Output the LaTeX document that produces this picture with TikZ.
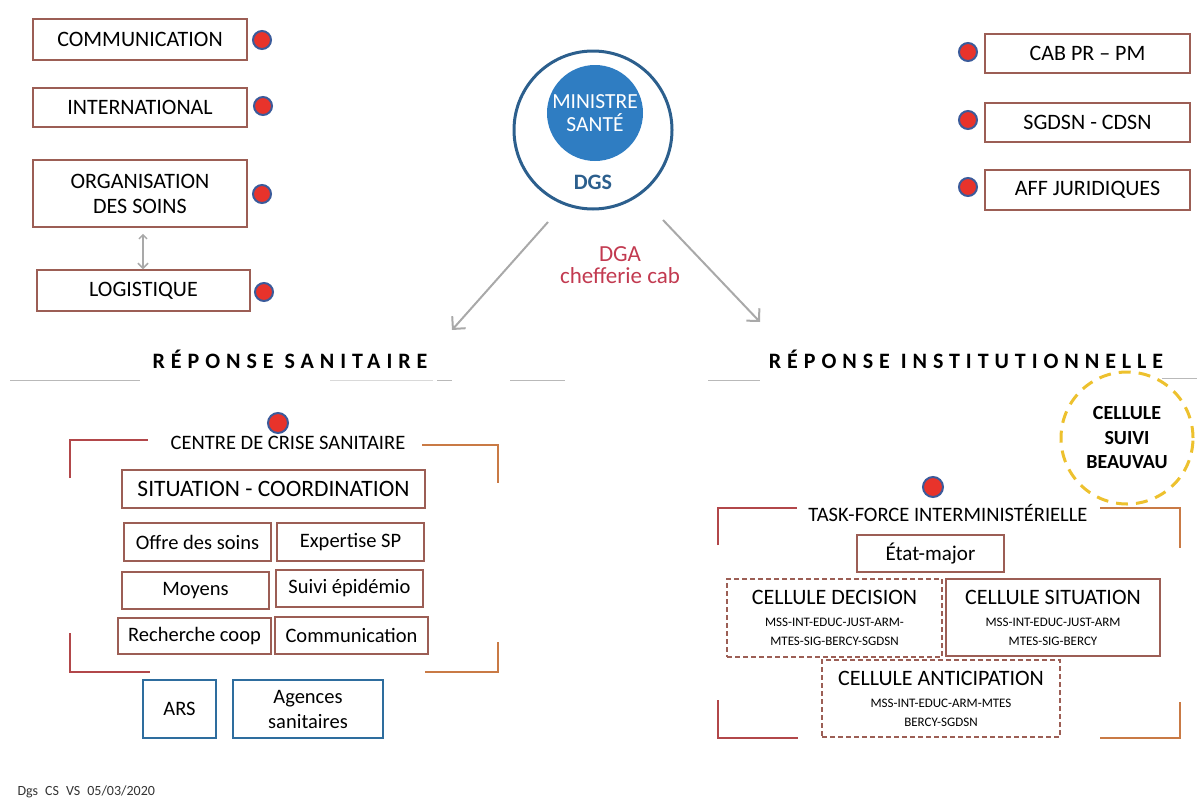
\documentclass[tikz,border=0pt]{standalone}
\usepackage{fontspec}
\setmainfont{Carlito}
\newfontfamily\spacedfont[LetterSpace=27]{Carlito}
\usetikzlibrary{arrows.meta}

\definecolor{boxline}{HTML}{9C5E55}
\definecolor{dotred}{HTML}{E8332B}
\definecolor{dotblue}{HTML}{3B5B9B}
\definecolor{dgsblue}{HTML}{2C5F8D}
\definecolor{minblue}{HTML}{2F7DC2}
\definecolor{dgared}{HTML}{C23A50}
\definecolor{arrgray}{HTML}{A9A9A9}
\definecolor{agblue}{HTML}{2E6D9E}
\definecolor{frameleft}{HTML}{B2474A}
\definecolor{frameright}{HTML}{C97A45}
\definecolor{beauyellow}{HTML}{EDC12E}

\begin{document}
\begin{tikzpicture}[x=1pt,y=-1pt,
    box/.style={draw=boxline,line width=1.5pt,fill=white,inner sep=0pt,align=center,font=\fontsize{22}{25}\selectfont},
    smallbox/.style={box,font=\fontsize{20.5}{23}\selectfont},
    bluebox/.style={box,draw=agblue,line width=2.5pt,font=\fontsize{20.5}{25}\selectfont},
    cellbox/.style={box,font=\fontsize{13}{19}\selectfont},
    dot/.style={circle,draw=dotblue,fill=dotred,line width=2pt,minimum size=18pt,inner sep=0pt},
    sectitle/.style={font=\fontsize{20.5}{24}\selectfont},
    heading/.style={font=\spacedfont\bfseries\fontsize{22}{26}\selectfont},
    framel/.style={draw=frameleft,line width=1.5pt},
    framer/.style={draw=frameright,line width=1.5pt},
    sepline/.style={draw=gray!55,line width=1pt},
    arr/.style={draw=arrgray,line width=2pt,-{Straight Barb[length=9pt,width=18pt]}},
    dblarr/.style={draw=arrgray,line width=1.5pt,{Straight Barb[length=4pt,width=8pt]}-{Straight Barb[length=5pt,width=10pt]}}]

\useasboundingbox (0,0) rectangle (1197,798);

% Left support boxes
\node[box,minimum width=214pt,minimum height=41pt] (comm) at (140,39.5) {COMMUNICATION};
\node[box,minimum width=214pt,minimum height=39pt] (intl) at (140,107.5) {INTERNATIONAL};
\node[box,minimum width=214pt,minimum height=67pt] (orga) at (140,193.5) {ORGANISATION\\DES SOINS};
\node[box,minimum width=213pt,minimum height=41pt] (logi) at (143.5,290.5) {LOGISTIQUE};
\node[dot] (dcomm) at (262,40) {};
\node[dot] (dintl) at (263,106) {};
\node[dot] (dorga) at (262,194) {};
\node[dot] (dlogi) at (264,292) {};
\draw[dblarr] ([xshift=3pt,yshift=-6pt]orga.south) -- ([xshift=3pt]orga.south |- logi.north);

% Right support boxes
\node[box,minimum width=205pt,minimum height=39pt] (cab) at (1087.5,53.5) {CAB PR -- PM};
\node[box,minimum width=205pt,minimum height=39pt] (sgd) at (1087.5,122.5) {SGDSN - CDSN};
\node[box,minimum width=205pt,minimum height=40pt] (aff) at (1087.5,190) {AFF JURIDIQUES};
\node[dot] (dcab) at (968,52) {};
\node[dot] (dsgd) at (968,120) {};
\node[dot] (daff) at (968,187) {};

% Minister and DGS
\node[circle,draw=dgsblue,line width=3pt,minimum size=158pt] (dgs) at (593,130) {};
\node[circle,fill=minblue,minimum size=96pt,inner sep=0pt,text=white,align=center,font=\fontsize{21.5}{23}\selectfont] (mini) at (595,113) {MINISTRE\\SANTÉ};
\node[text=dgsblue,font=\bfseries\fontsize{22}{24}\selectfont] (dgslbl) at (593,182) {DGS};
\node[text=dgared,align=center,font=\fontsize{23}{22}\selectfont] (dga) at (620,265) {DGA\\chefferie cab};

% Two responses
\node[heading] (rsan) at (290,359) {RÉPONSE SANITAIRE};
\node[heading] (rinst) at (966,359) {RÉPONSE INSTITUTIONNELLE};
\coordinate (al1) at (548,222);
\coordinate (al2) at (452,330);
\coordinate (ar1) at (663,220);
\coordinate (ar2) at (760,322);
\draw[arr] (al1) -- (al2);
\draw[arr] (ar1) -- (ar2);
\draw[sepline] (10,380) -- (140,380);
\draw[sepline,gray!30] (330,380) -- (433,380);
\draw[sepline] (437,380) -- (452,380);
\draw[sepline] (510,380) -- (565,380);
\draw[sepline] (708,380) -- (760,380);
\draw[sepline] (1162,378) -- (1197,378);

% Centre de crise sanitaire
\node[dot,minimum size=20pt] (dccs) at (278,423) {};
\node[sectitle] (ccs) at (288,443) {CENTRE DE CRISE SANITAIRE};
\draw[framel] (70,478) -- (70,440) -- (148,440);
\draw[framer] (422,445) -- (498,445) -- (498,483);
\draw[framel] (70,633) -- (70,672) -- (150,672);
\draw[framer] (425,672) -- (498,672) -- (498,642);
\node[box,font=\fontsize{23.5}{26}\selectfont,minimum width=303pt,minimum height=38pt] (sitco) at (273.5,489) {SITUATION - COORDINATION};
\node[smallbox,minimum width=147pt,minimum height=38pt] (offre) at (197.5,542) {Offre des soins};
\node[smallbox,minimum width=147pt,minimum height=38pt] (expert) at (350.5,542) {Expertise SP};
\node[smallbox,minimum width=147pt,minimum height=37pt] (moyens) at (195.5,590.5) {Moyens};
\node[smallbox,minimum width=147pt,minimum height=37pt] (suivi) at (349.5,588.5) {Suivi épidémio};
\node[smallbox,minimum width=153pt,minimum height=36pt] (rech) at (194.5,636) {Recherche coop};
\node[smallbox,minimum width=153pt,minimum height=37pt] (commu) at (351.5,635.5) {Communication};
\node[bluebox,minimum width=73pt,minimum height=58pt] (ars) at (179.5,709) {ARS};
\node[bluebox,minimum width=150pt,minimum height=58pt] (agences) at (308,709) {Agences\\sanitaires};

% Task-force interministerielle
\node[circle,draw=beauyellow,line width=3pt,dash pattern=on 12pt off 8pt,minimum size=132pt,align=center,font=\bfseries\fontsize{20}{24.5}\selectfont] (beauvau) at (1127,438) {CELLULE\\SUIVI\\BEAUVAU};
\node[dot,minimum size=20pt] (dtf) at (933,487) {};
\node[sectitle] (tf) at (948,513) {TASK-FORCE INTERMINISTÉRIELLE};
\draw[framel] (718,545) -- (718,508) -- (797,508);
\draw[framer] (1100,508) -- (1180,508) -- (1180,548);
\draw[framel] (718,700) -- (718,738) -- (798,738);
\draw[framer] (1100,738) -- (1180,738) -- (1180,702);
\node[box,font=\fontsize{21}{24}\selectfont,minimum width=147pt,minimum height=37pt] (etat) at (930.5,553.5) {État-major};
\node[cellbox,dash pattern=on 5pt off 3pt,minimum width=215pt,minimum height=78pt] (cdec) at (834.5,618) {{\fontsize{22}{24}\selectfont CELLULE DECISION}\\[3pt]MSS-INT-EDUC-JUST-ARM-\\MTES-SIG-BERCY-SGDSN};
\node[cellbox,minimum width=214pt,minimum height=77pt] (csit) at (1053,617.5) {{\fontsize{22}{24}\selectfont CELLULE SITUATION}\\[3pt]MSS-INT-EDUC-JUST-ARM\\MTES-SIG-BERCY};
\node[cellbox,dash pattern=on 5pt off 3pt,minimum width=238pt,minimum height=77pt] (cant) at (941,698.5) {{\fontsize{22}{24}\selectfont CELLULE ANTICIPATION}\\[3pt]MSS-INT-EDUC-ARM-MTES\\BERCY-SGDSN};

% Footer
\node[anchor=west,text=black!80,font=\fontsize{14}{16}\selectfont] (foot) at (14,792) {Dgs\enspace CS\enspace VS\enspace 05/03/2020};

\end{tikzpicture}
\end{document}
